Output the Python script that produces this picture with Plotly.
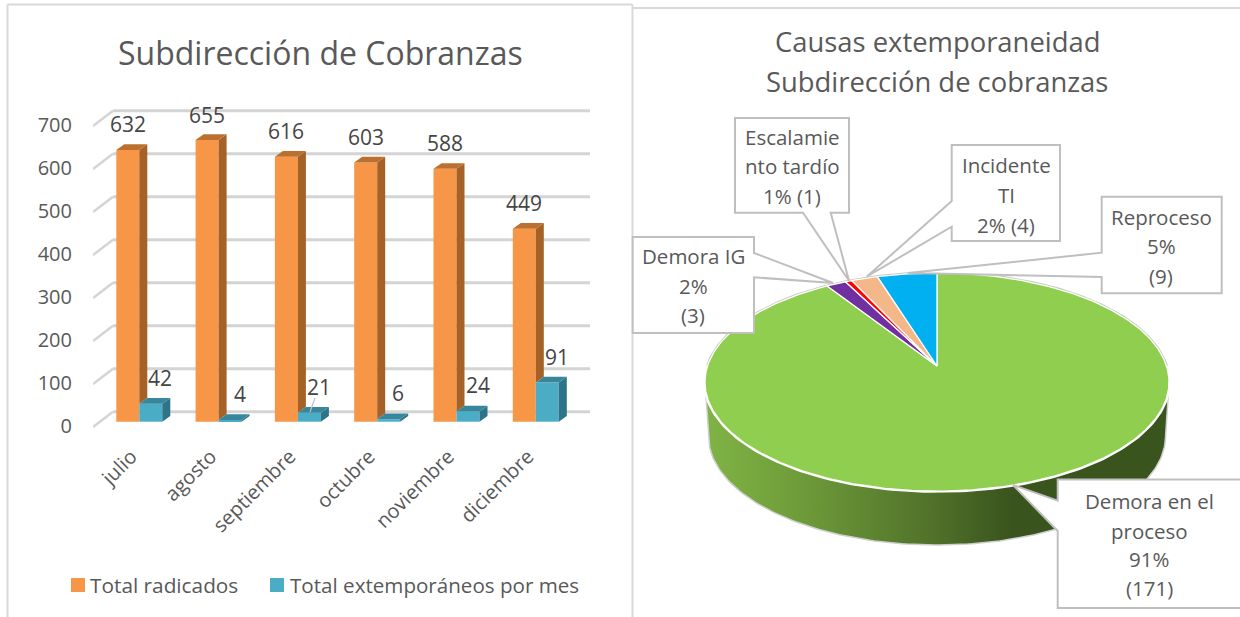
import numpy as np
import plotly.graph_objects as go

# ---------- data ----------
months = ["julio", "agosto", "septiembre", "octubre", "noviembre", "diciembre"]
radicados = [632, 655, 616, 603, 588, 449]
extemporaneos = [42, 4, 21, 6, 24, 91]
y_ticks = [0, 100, 200, 300, 400, 500, 600, 700]
series_names = ["Total radicados", "Total extemporáneos por mes"]

causes = ["Demora en el proceso", "Demora IG", "Escalamiento tardío", "Incidente TI", "Reproceso"]
cause_counts = [171, 3, 1, 4, 9]
cause_colors = ["#8FCE4E", "#7030A0", "#FF0000", "#F4B78A", "#00B0F0"]

# ---------- style ----------
FONT = "Open Sans"
TXT = "#595959"
DARK = "#454545"
GRID = "#D4D4D4"
BOX = "#BFBFBF"
ORANGE = ("#F79646", "#A66226", "#BC7030")
TEAL = ("#4BACC6", "#2E7488", "#37869B")
PXU = 0.43          # pixels per value unit, left chart
CAT = 79.3          # pixels per category
X0 = 139.3          # pixel of category 0
Y0 = 421.7          # pixel of value 0
BARW = 23 / CAT
DX, DY = 8 / CAT, 5.7 / PXU

fig = go.Figure()

# ---------- pie (full-page pixel axes x/y) ----------
CX, CY = 937.0, 366.0
K = 0.147
A, B = 229.5, 106.7


def project(phi, a=A, b=B, cy=CY):
    u, v = np.sin(phi), np.cos(phi)
    d = 1 + K * v
    return CX + a * u / d, cy - b * v / d


total = sum(cause_counts)
# side wall: front half of the rim plus the shifted lower rim
ph = np.linspace(np.pi * 0.5 + 0.16, np.pi * 1.5 - 0.16, 160)
xt, yt = project(ph)
xb, yb = project(ph, a=A * 0.985, b=B * 1.0, cy=CY + 54)
fig.add_trace(go.Scatter(
    x=np.r_[xt, xb[::-1], xt[0]], y=np.r_[yt, yb[::-1], yt[0]], mode="lines",
    fill="toself", line=dict(color="#CFCFCF", width=1.5),
    fillgradient=dict(type="horizontal", colorscale=[
        [0, "#80B445"], [0.2, "#6F9C3A"], [0.5, "#4F7029"], [0.66, "#3A541D"], [1, "#3A541D"]]),
    hoverinfo="skip"))

# rim: grey along the back, white along the front
edges = np.cumsum([0] + cause_counts) / total * 2 * np.pi
ph = np.linspace(-np.pi * 0.5, np.pi * 0.5, 160)
xr, yr = project(ph)
fig.add_trace(go.Scatter(x=xr, y=yr, mode="lines", line=dict(color="#C8C8C8", width=3), hoverinfo="skip"))
ph = np.linspace(np.pi * 0.5, np.pi * 1.5, 160)
xr, yr = project(ph)
fig.add_trace(go.Scatter(x=xr, y=yr, mode="lines", line=dict(color="#FFFFFF", width=3.5), hoverinfo="skip"))
# top wedges (clockwise from 12 o'clock)
for i, name in enumerate(causes):
    ph = np.linspace(edges[i], edges[i + 1], max(4, int(cause_counts[i] * 3)))
    xw, yw = project(ph)
    fig.add_trace(go.Scatter(
        x=np.r_[CX, xw, CX], y=np.r_[CY, yw, CY], mode="lines", fill="toself", name=name,
        fillcolor=cause_colors[i], line=dict(color="#FFFFFF", width=1.3), hoverinfo="name"))

# ---------- bars (axes x2/y2) ----------
xs = list(range(len(months)))
fig.add_trace(go.Bar(x=xs, y=radicados, name=series_names[0], marker=dict(color=ORANGE[0], line_width=0),
                     xaxis="x2", yaxis="y2"))
fig.add_trace(go.Bar(x=xs, y=extemporaneos, name=series_names[1], marker=dict(color=TEAL[0], line_width=0),
                     xaxis="x2", yaxis="y2"))


def poly_trace(polys, color):
    px, py = [], []
    for p in polys:
        px += [c[0] for c in p] + [p[0][0], None]
        py += [c[1] for c in p] + [p[0][1], None]
    fig.add_trace(go.Scatter(x=px, y=py, mode="lines", fill="toself", fillcolor=color,
                             line=dict(width=0), xaxis="x2", yaxis="y2", hoverinfo="skip"))


or_side, or_top, te_side, te_top = [], [], [], []
for i, (r, e) in enumerate(zip(radicados, extemporaneos)):
    l0, m, r1 = i - BARW, i, i + BARW
    low = min(e, r)
    or_side.append([(m, low), (m + DX, low + DY), (m + DX, r + DY), (m, r)])
    or_top.append([(l0, r), (l0 + DX, r + DY), (m + DX, r + DY), (m, r)])
    te_side.append([(r1, 0), (r1 + DX, DY), (r1 + DX, e + DY), (r1, e)])
    te_top.append([(m, e), (m + DX, e + DY), (r1 + DX, e + DY), (r1, e)])
poly_trace(or_side, ORANGE[1])
poly_trace(or_top, ORANGE[2])
poly_trace(te_side, TEAL[1])
poly_trace(te_top, TEAL[2])

annotations, shapes = [], []


def text(x, y, s, size=20, xref="x", yref="y", color=TXT, **kw):
    annotations.append(dict(x=x, y=y, text=s, xref=xref, yref=yref, showarrow=False,
                            font=dict(family=FONT, size=size, color=color), **kw))


# value labels
for i, (r, e) in enumerate(zip(radicados, extemporaneos)):
    text(i - BARW / 2, r, str(r), xref="x2", yref="y2", yshift=25.5, size=21, color=DARK)
    text(i + BARW / 2, e, str(e), xref="x2", yref="y2", yshift=26, xshift=9.5, size=21, color=DARK)

# wall + grid, behind the bars
FRONT_X, BACK_X, END_X = (93 - X0) / CAT, (113 - X0) / CAT, (590 - X0) / CAT
FRONT_DY, BACK_DY = (Y0 - 427) / PXU, (Y0 - 411.7) / PXU
for t in y_ticks:
    shapes.append(dict(type="line", xref="x2", yref="y2", layer="below",
                       x0=FRONT_X, x1=BACK_X, y0=t + FRONT_DY, y1=t + BACK_DY,
                       line=dict(color=GRID, width=2.5)))
    shapes.append(dict(type="line", xref="x2", yref="y2", layer="below",
                       x0=BACK_X, x1=END_X, y0=t + BACK_DY, y1=t + BACK_DY,
                       line=dict(color=GRID, width=3)))

# leader line of "21"
shapes.append(dict(type="line", xref="x", yref="y", x0=315, y0=398, x1=310, y1=412, line=dict(color="#BFBFBF", width=1.2)))

# panel frames
for x0, y0, x1, y1 in [(7.5, 4.5, 7.5, 617), (7.5, 4.5, 632.5, 4.5), (632.5, 4.5, 632.5, 617), (632.5, 8, 1240, 8)]:
    shapes.append(dict(type="line", xref="x", yref="y", x0=x0, y0=y0, x1=x1, y1=y1, layer="below",
                       line=dict(color="#D9D9D9", width=2)))

# legend
for x0, col in [(71, ORANGE[0]), (270, TEAL[0])]:
    shapes.append(dict(type="rect", xref="x", yref="y", x0=x0, x1=x0 + 14, y0=578, y1=592,
                       fillcolor=col, line_width=0))
text(88, 585, series_names[0], xanchor="left", size=20.8)
text(287.5, 585, series_names[1], xanchor="left", size=20.6)

# titles
text(320, 52, "Subdirección de Cobranzas", size=32)
text(937, 41, "Causas extemporaneidad", size=27.4)
text(937, 81, "Subdirección de cobranzas", size=27.4)


# callouts
def callout(points, lines, cx, ys, size=20.5):
    d = "M" + "L".join(f"{a},{b}" for a, b in points) + "Z"
    shapes.append(dict(type="path", xref="x", yref="y", path=d, fillcolor="#FFFFFF",
                       line=dict(color=BOX, width=2), layer="above"))
    for s, y in zip(lines, ys):
        text(cx, y, s, size=size)


callout([(735, 118), (849, 118), (849, 212.7), (830.7, 212.7), (849, 280.7), (803, 212.7), (735, 212.7)],
        ["Escalamie", "nto tardío", "1% (1)"], 792, [137, 166, 196])
callout([(951.7, 145), (1060, 145), (1060, 241), (951.7, 241), (951.7, 226.7), (866.7, 276.7), (951.7, 201)],
        ["Incidente", "TI", "2% (4)"], 1006, [165, 195, 225])
callout([(1101.7, 196.7), (1221.7, 196.7), (1221.7, 293.3), (1101.7, 293.3), (1101.7, 277), (908, 273), (1101.7, 252.7)],
        ["Reproceso", "5%", "(9)"], 1161, [217, 246, 276])
callout([(632.7, 237), (754, 237), (754, 253), (833, 283), (754, 277.3), (754, 333), (632.7, 333)],
        ["Demora IG", "2%", "(3)"], 693, [256, 286, 315])
callout([(1057.7, 479.5), (1250, 479.5), (1250, 608), (1057.7, 608), (1057.7, 531), (1013, 485), (1057.7, 500.7)],
        ["Demora en el", "proceso", "91%", "(171)"], 1149, [501, 531, 559, 588])

fig.update_layout(
    width=1240, height=617, margin=dict(l=0, r=0, t=0, b=0), autosize=False,
    paper_bgcolor="#FFFFFF", plot_bgcolor="rgba(0,0,0,0)", showlegend=False,
    barmode="group", bargap=1 - 2 * BARW, bargroupgap=0,
    font=dict(family=FONT, color=TXT),
    annotations=annotations, shapes=shapes,
    xaxis=dict(domain=[0, 1], range=[0, 1240], visible=False, fixedrange=True),
    yaxis=dict(domain=[0, 1], range=[617, 0], visible=False, fixedrange=True),
    xaxis2=dict(domain=[93 / 1240, 600 / 1240], range=[(93 - X0) / CAT, (600 - X0) / CAT],
                anchor="y2", tickmode="array", tickvals=xs, ticktext=months, tickangle=-45,
                showgrid=False, zeroline=False, showline=False, ticks="", ticklabelshift=-8,
                tickfont=dict(family=FONT, size=20, color=TXT), fixedrange=True),
    yaxis2=dict(domain=[1 - 440 / 617, 1 - 100 / 617], range=[(Y0 - 440) / PXU, (Y0 - 100) / PXU],
                anchor="x2", tickmode="array", tickvals=y_ticks, showgrid=False, zeroline=False,
                showline=False, ticks="", ticklabelstandoff=20, ticklabelshift=4,
                tickfont=dict(family=FONT, size=20, color=TXT), fixedrange=True),
)

fig.write_html("out.html", config=dict(displayModeBar=False),
               post_script="document.body.style.margin='0';document.body.style.overflow='hidden';")
